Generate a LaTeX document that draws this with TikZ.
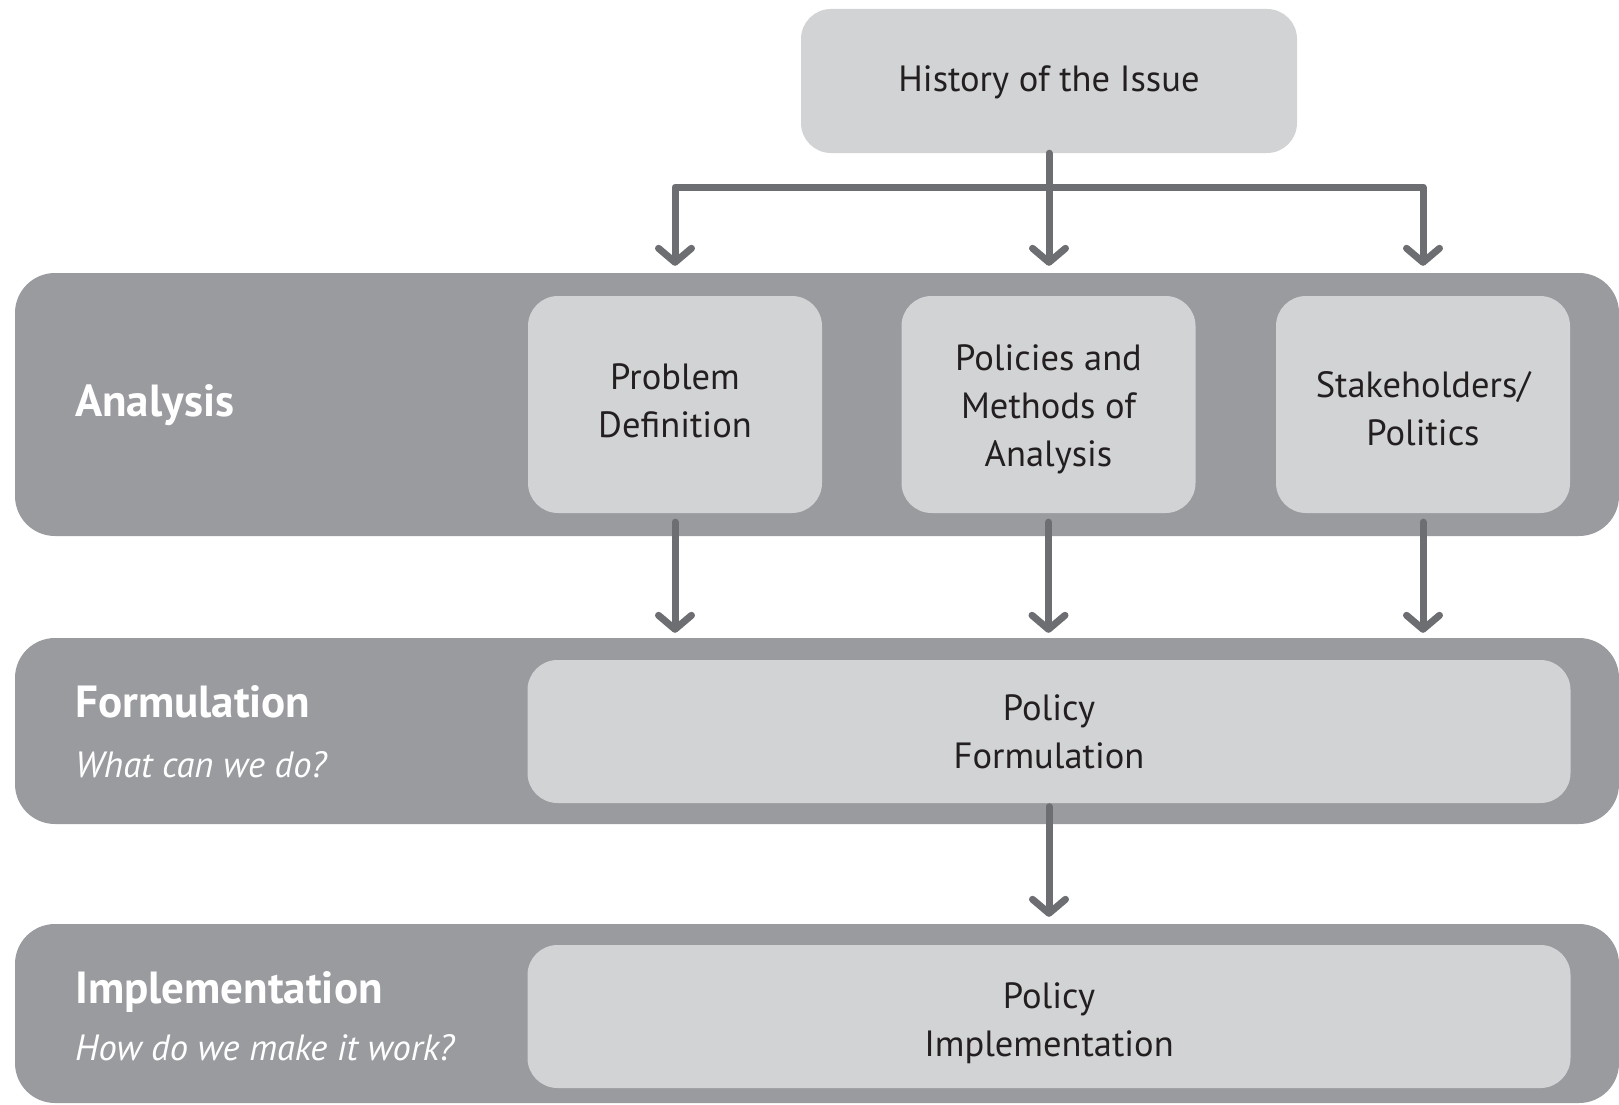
\documentclass[tikz,border=0pt]{standalone}
\usepackage{fontspec}
\setmainfont{PT Sans}
\usetikzlibrary{arrows.meta}
\definecolor{bandgray}{HTML}{9A9B9F}
\definecolor{boxgray}{HTML}{D1D3D4}
\definecolor{arrowgray}{HTML}{6D6E71}
\definecolor{inktext}{HTML}{231F20}
\begin{document}
\begin{tikzpicture}[x=1pt,y=-1pt,
  band/.style={fill=bandgray, draw=none, rounded corners=40pt, minimum width=1604pt, inner sep=0pt},
  stagebox/.style={fill=boxgray, draw=none, rounded corners=30pt, inner sep=0pt},
  boxtext/.style={inner sep=0pt, align=center, font=\fontsize{36.5}{48}\selectfont, text=inktext},
  flow/.style={draw=arrowgray, line width=7pt, line cap=round, line join=round,
    -{Straight Barb[length=14pt, width=33pt, round]}},
  stagelabel/.style={anchor=base west, inner sep=0pt, text=white, font=\fontsize{45}{45}\selectfont\bfseries},
  stagequestion/.style={anchor=base west, inner sep=0pt, text=white, font=\fontsize{36.5}{36.5}\selectfont\itshape}
]
\useasboundingbox (0,0) rectangle (1619,1105);
% bands
\node[band, minimum height=263pt] (aband) at (817,404.5) {};
\node[band, minimum height=186pt] (fband) at (817,731) {};
\node[band, minimum height=179pt] (iband) at (817,1013.5) {};
% boxes
\node[stagebox, minimum width=496pt, minimum height=144pt] (hist) at (1049,81) {};
\node[stagebox, minimum width=294pt, minimum height=217pt] (prob) at (675,404.5) {};
\node[stagebox, minimum width=294pt, minimum height=217pt] (pol) at (1048.5,404.5) {};
\node[stagebox, minimum width=294pt, minimum height=217pt] (stake) at (1423,404.5) {};
\node[stagebox, minimum width=1043pt, minimum height=143pt] (pform) at (1049,731.5) {};
\node[stagebox, minimum width=1043pt, minimum height=143pt] (pimpl) at (1049,1016.5) {};
% box texts
\node[boxtext, yshift=-1pt] (histtext) at (hist) {History of the Issue};
\node[boxtext, yshift=4pt] (probtext) at (prob) {Problem\\Definition};
\node[boxtext, yshift=-5pt] (poltext) at (pol) {Policies and\\Methods of\\Analysis};
\node[boxtext, yshift=-4pt] (staketext) at (stake) {Stakeholders/\\Politics};
\node[boxtext] (pformtext) at (pform) {Policy\\Formulation};
\node[boxtext, yshift=-7pt] (pimpltext) at (pimpl) {Policy\\Implementation};
% labels
\node[stagelabel] (lana) at (75,416) {Analysis};
\node[stagelabel] (lform) at (75,717) {Formulation};
\node[stagequestion] (qform) at (75,777) {What can we do?};
\node[stagelabel] (limpl) at (75,1003) {Implementation};
\node[stagequestion] (qimpl) at (75,1060) {How do we make it work?};
% connectors
\coordinate (split) at (1049,187);
\draw[flow, shorten >=30pt] (hist.south) -- (hist.south |- pol.north);
\draw[flow, shorten >=30pt] (split) -| (prob.north);
\draw[flow, shorten >=30pt] (split) -| (stake.north);
\draw[flow, shorten <=9pt, shorten >=5pt] (prob.south) -- (prob.south |- fband.north);
\draw[flow, shorten <=9pt, shorten >=5pt] (pol.south) -- (pol.south |- fband.north);
\draw[flow, shorten <=9pt, shorten >=5pt] (stake.south) -- (stake.south |- fband.north);
\draw[flow, shorten <=3.5pt, shorten >=7pt] (pform.south) -- (pform.south |- iband.north);
\end{tikzpicture}
\end{document}
